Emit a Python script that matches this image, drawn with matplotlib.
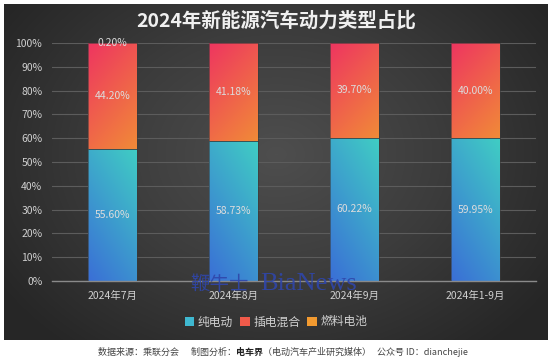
import numpy as np
import matplotlib.pyplot as plt
from matplotlib.colors import LinearSegmentedColormap
from matplotlib.patches import Patch

plt.rcParams['font.family'] = ['Noto Sans CJK SC', 'DejaVu Sans']

# ---- data ----
categories = ["2024年7月", "2024年8月", "2024年9月", "2024年1-9月"]
bev = [55.60, 58.73, 60.22, 59.95]
phev = [44.20, 41.18, 39.70, 40.00]
fcev = [0.20, 0.09, 0.08, 0.05]
series_names = ["纯电动", "插电混合", "燃料电池"]
show_fcev_label = [True, False, False, False]

# gradient colour pairs (start, end)
grad_bev = ("#3a6fd6", "#40cdc4")     # bottom-left blue -> top-right teal
grad_phev = ("#ee3560", "#f18a38")    # top-left pink -> bottom-right orange
grad_fcev = ("#f06a30", "#f5b830")

W, H = 552, 362
fig = plt.figure(figsize=(W / 100, H / 100), dpi=100)
fig.patch.set_facecolor("white")

# dark radial background panel
bg = fig.add_axes([0, 0, 1, 1])
bg.set_xlim(0, W)
bg.set_ylim(H, 0)
bg.axis("off")
yy, xx = np.mgrid[0:336, 0:544]
r = np.sqrt(((xx - 272) / 300.0) ** 2 + ((yy - 150) / 230.0) ** 2)
bg_cmap = LinearSegmentedColormap.from_list("bg", ["#4e4e4e", "#3c3c3c", "#262626"])
bg.imshow(r, cmap=bg_cmap, extent=(4, 548, 340, 4), aspect="auto", vmin=0, vmax=1.1, zorder=0)

ax = fig.add_axes([52 / W, 1 - 281 / H, (536 - 52) / W, (281 - 43) / H])
ax.patch.set_alpha(0)
x = np.arange(len(categories))
width = 0.4

bev_f = np.array(bev) / 100
phev_f = np.array(phev) / 100
fcev_f = np.array(fcev) / 100


def grad_fill(patches, colors, direction):
    cmap = LinearSegmentedColormap.from_list("g", list(colors))
    n = 64
    u, v = np.meshgrid(np.linspace(0, 1, n), np.linspace(0, 1, n))  # v: 0 at top row
    if direction == "up":       # blue bottom-left -> teal top-right
        t = 0.35 * u + 0.65 * (1 - v)
    else:                       # pink top-left -> orange bottom-right
        t = 0.35 * u + 0.65 * v
    for p in patches:
        bb = p.get_bbox()
        im = ax.imshow(t, cmap=cmap, extent=(bb.x0, bb.x1, bb.y0, bb.y1),
                       aspect="auto", origin="upper", zorder=2, vmin=0, vmax=1)
        im.set_clip_path(p)
        p.set_facecolor("none")


b1 = ax.bar(x, bev_f, width, color="none", edgecolor="#3a3a3a", linewidth=0.4, zorder=3)
b2 = ax.bar(x, phev_f, width, bottom=bev_f, color="none", edgecolor="#3a3a3a", linewidth=0.4, zorder=3)
b3 = ax.bar(x, fcev_f, width, bottom=bev_f + phev_f, color="none", edgecolor="none", zorder=3)
grad_fill(b1, grad_bev, "up")
grad_fill(b2, grad_phev, "down")
grad_fill(b3, grad_fcev, "down")

lab_col = "#dcdcdc"
for i in range(len(x)):
    ax.text(x[i], bev_f[i] / 2, f"{bev[i]:.2f}%", ha="center", va="center",
            color=lab_col, fontsize=7.5, zorder=5)
    ax.text(x[i], bev_f[i] + phev_f[i] / 2, f"{phev[i]:.2f}%", ha="center", va="center",
            color=lab_col, fontsize=7.5, zorder=5)
    if show_fcev_label[i]:
        ax.text(x[i], 1.0, f"{fcev[i]:.2f}%", ha="center", va="center",
                color=lab_col, fontsize=7.5, zorder=5)

ax.set_xlim(-0.5, len(x) - 0.5)
ax.set_ylim(0, 1)
ax.set_yticks(np.arange(0, 1.01, 0.1))
ax.set_yticklabels([f"{int(v * 100)}%" for v in np.arange(0, 1.01, 0.1)])
ax.set_xticks(x)
ax.set_xticklabels(categories)
ax.tick_params(axis="both", length=0, colors="#d0d0d0", labelsize=7.5)
ax.tick_params(axis="y", pad=7)
ax.tick_params(axis="x", pad=7)
ax.grid(axis="y", color="#5c5c5c", linewidth=0.8, zorder=1)
ax.set_axisbelow(True)
for s in ["top", "right", "left"]:
    ax.spines[s].set_visible(False)
ax.spines["bottom"].set_color("#8a8a8a")
ax.spines["bottom"].set_linewidth(1.0)

# title
fig.text(276 / W, 1 - 21 / H, "2024年新能源汽车动力类型占比", ha="center", va="center",
         color="#f0f0f0", fontsize=14, fontweight="bold")

# legend
handles = [Patch(facecolor="#3fb8d0", edgecolor="none"),
           Patch(facecolor="#f05a4a", edgecolor="none"),
           Patch(facecolor="#f29a30", edgecolor="none")]
leg = fig.legend(handles, series_names, loc="center", bbox_to_anchor=(276 / W, 1 - 322 / H),
                 ncol=3, frameon=False, fontsize=8.5, handlelength=0.8, handleheight=0.8,
                 handletextpad=0.3, columnspacing=0.6, labelcolor="#d0d0d0")

# watermark (sits over the axis line in the source image)
wm_col = "#2f46aa"
fig.text(219 / W, 1 - 284 / H, "鞭牛士", ha="center", va="center",
         color=wm_col, alpha=0.9, fontsize=14, zorder=10)
fig.text(260 / W, 1 - 284 / H, "BiaNews", ha="left", va="center",
         color=wm_col, alpha=0.9, fontsize=19, family="Liberation Serif", zorder=10)

# footnote, with the middle part in bold
renderer = fig.canvas.get_renderer()
foot = [("数据来源：乘联分会      制图分析：", "normal"), ("电车界", "bold"),
        ("（电动汽车产业研究媒体）   公众号 ID：dianchejie", "normal")]
xpos = 98
for s, wgt in foot:
    t = fig.text(xpos / W, 1 - 352 / H, s, ha="left", va="center",
                 color="#222222" if wgt == "bold" else "#444444", fontsize=6.5, fontweight=wgt)
    xpos += t.get_window_extent(renderer).width

fig.savefig("out.png", dpi=100, facecolor=fig.get_facecolor())
